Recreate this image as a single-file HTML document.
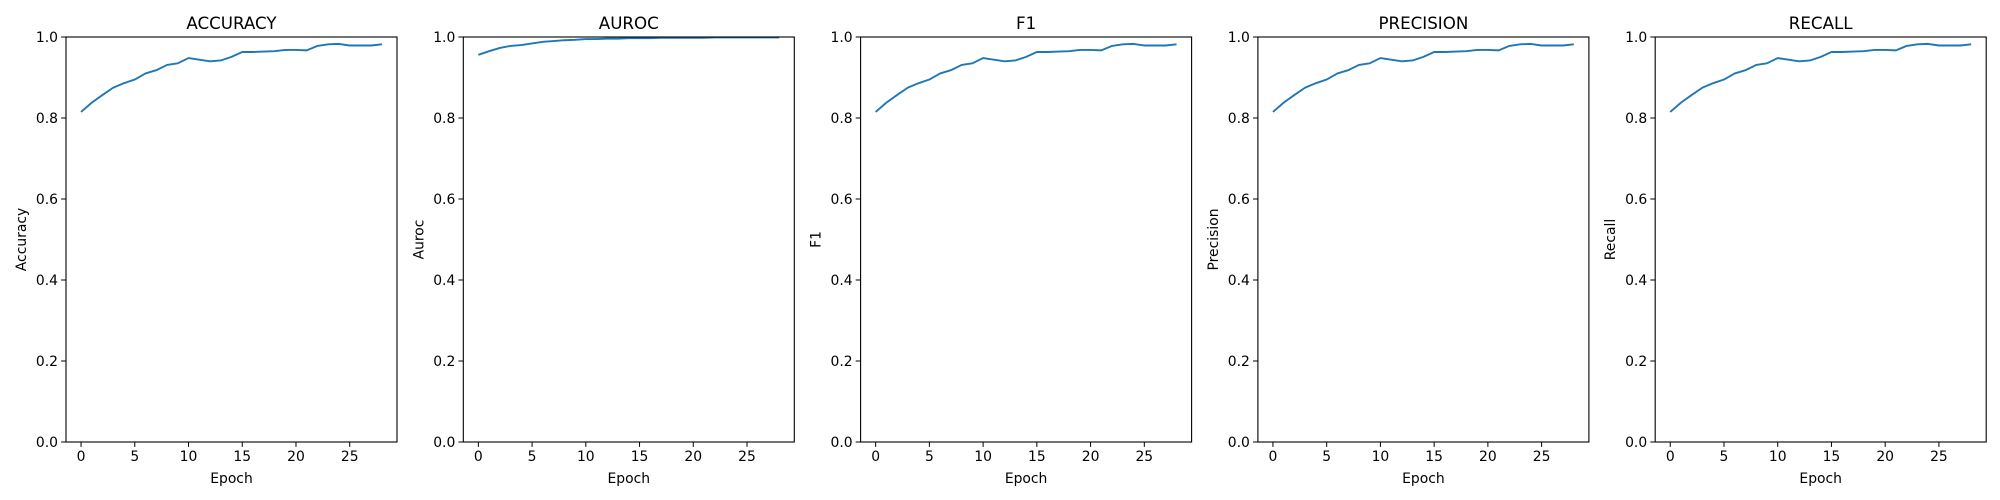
<!DOCTYPE html>
<html><head><meta charset="utf-8"><style>
body{margin:0;background:#fff;}
svg{display:block;font-family:"DejaVu Sans","Liberation Sans",sans-serif;}
</style></head><body>
<svg id="chart" width="2000" height="500" viewBox="0 0 2000 500" xmlns="http://www.w3.org/2000/svg"></svg>
<script>
const epochs = [0,1,2,3,4,5,6,7,8,9,10,11,12,13,14,15,16,17,18,19,20,21,22,23,24,25,26,27,28];
const accuracyValues = [0.815,0.838,0.857,0.875,0.886,0.895,0.910,0.918,0.931,0.935,0.948,0.944,0.940,0.942,0.951,0.963,0.963,0.964,0.965,0.968,0.968,0.967,0.978,0.982,0.983,0.979,0.979,0.979,0.982];
const aurocValues = [0.956,0.965,0.973,0.978,0.980,0.984,0.988,0.990,0.992,0.993,0.995,0.995,0.996,0.996,0.997,0.997,0.997,0.998,0.998,0.998,0.998,0.998,0.999,0.999,0.999,0.999,0.999,0.999,0.999];
const f1Values = [0.815,0.838,0.857,0.875,0.886,0.895,0.910,0.918,0.931,0.935,0.948,0.944,0.940,0.942,0.951,0.963,0.963,0.964,0.965,0.968,0.968,0.967,0.978,0.982,0.983,0.979,0.979,0.979,0.982];
const precisionValues = [0.815,0.838,0.857,0.875,0.886,0.895,0.910,0.918,0.931,0.935,0.948,0.944,0.940,0.942,0.951,0.963,0.963,0.964,0.965,0.968,0.968,0.967,0.978,0.982,0.983,0.979,0.979,0.979,0.982];
const recallValues = [0.815,0.838,0.857,0.875,0.886,0.895,0.910,0.918,0.931,0.935,0.948,0.944,0.940,0.942,0.951,0.963,0.963,0.964,0.965,0.968,0.968,0.967,0.978,0.982,0.983,0.979,0.979,0.979,0.982];
const xTicks = [0,5,10,15,20,25];
const yTicks = [0.0,0.2,0.4,0.6,0.8,1.0];
const titles = ["ACCURACY","AUROC","F1","PRECISION","RECALL"];
const yLabels = ["Accuracy","Auroc","F1","Precision","Recall"];
const seriesList = [accuracyValues,aurocValues,f1Values,precisionValues,recallValues];

const NS="http://www.w3.org/2000/svg";
const svgEl=document.getElementById('chart');
function mk(tag,attrs,parent){const e=document.createElementNS(NS,tag);for(const k in attrs)e.setAttribute(k,attrs[k]);(parent||svgEl).appendChild(e);return e;}
const plotTop=37,plotBottom=442,plotW=331;
const xmin=-1.4,xmax=29.4;
for(let p=0;p<5;p++){
  const left=66+p*397.3;
  const g=mk('g',{});
  
  
  const xs=v=>left+(v-xmin)/(xmax-xmin)*plotW;
  const ys=v=>plotBottom-v*(plotBottom-plotTop);
  const pts=epochs.map((e,i)=>xs(e).toFixed(2)+','+ys(seriesList[p][i]).toFixed(2)).join(' ');
  const line=mk('polyline',{points:pts,fill:'none',stroke:'#1f77b4','stroke-width':1.9,'stroke-linejoin':'round'},g);
  
  
  const frame=mk('rect',{x:left,y:plotTop,width:plotW,height:plotBottom-plotTop,fill:'none',stroke:'#000','stroke-width':1.1},g);
  
  
  xTicks.forEach(t=>{
    const x=xs(t);
    mk('line',{x1:x,x2:x,y1:plotBottom,y2:plotBottom+4.9,stroke:'#000','stroke-width':1},g);
    const tx=mk('text',{x:x,y:plotBottom+19,'font-size':13.9,'text-anchor':'middle'},g);
    tx.textContent=t;
    
    
  });
  yTicks.forEach(t=>{
    const y=ys(t);
    mk('line',{x1:left,x2:left-4.9,y1:y,y2:y,stroke:'#000','stroke-width':1},g);
    const tx=mk('text',{x:left-8,y:y+5,'font-size':13.9,'text-anchor':'end'},g);
    tx.textContent=t.toFixed(1);
    
    
  });
  const tt=mk('text',{x:left+plotW/2,y:29,'font-size':16.7,'text-anchor':'middle'},g);
  tt.textContent=titles[p];
  
  
  const xl=mk('text',{x:left+plotW/2,y:483,'font-size':13.9,'text-anchor':'middle'},g);
  xl.textContent='Epoch';
  
  
  const yl=mk('text',{x:0,y:0,'font-size':13.9,'text-anchor':'middle',transform:`translate(${left-40},${(plotTop+plotBottom)/2}) rotate(-90)`},g);
  yl.textContent=yLabels[p];
  
  
}
</script>
</body></html>
